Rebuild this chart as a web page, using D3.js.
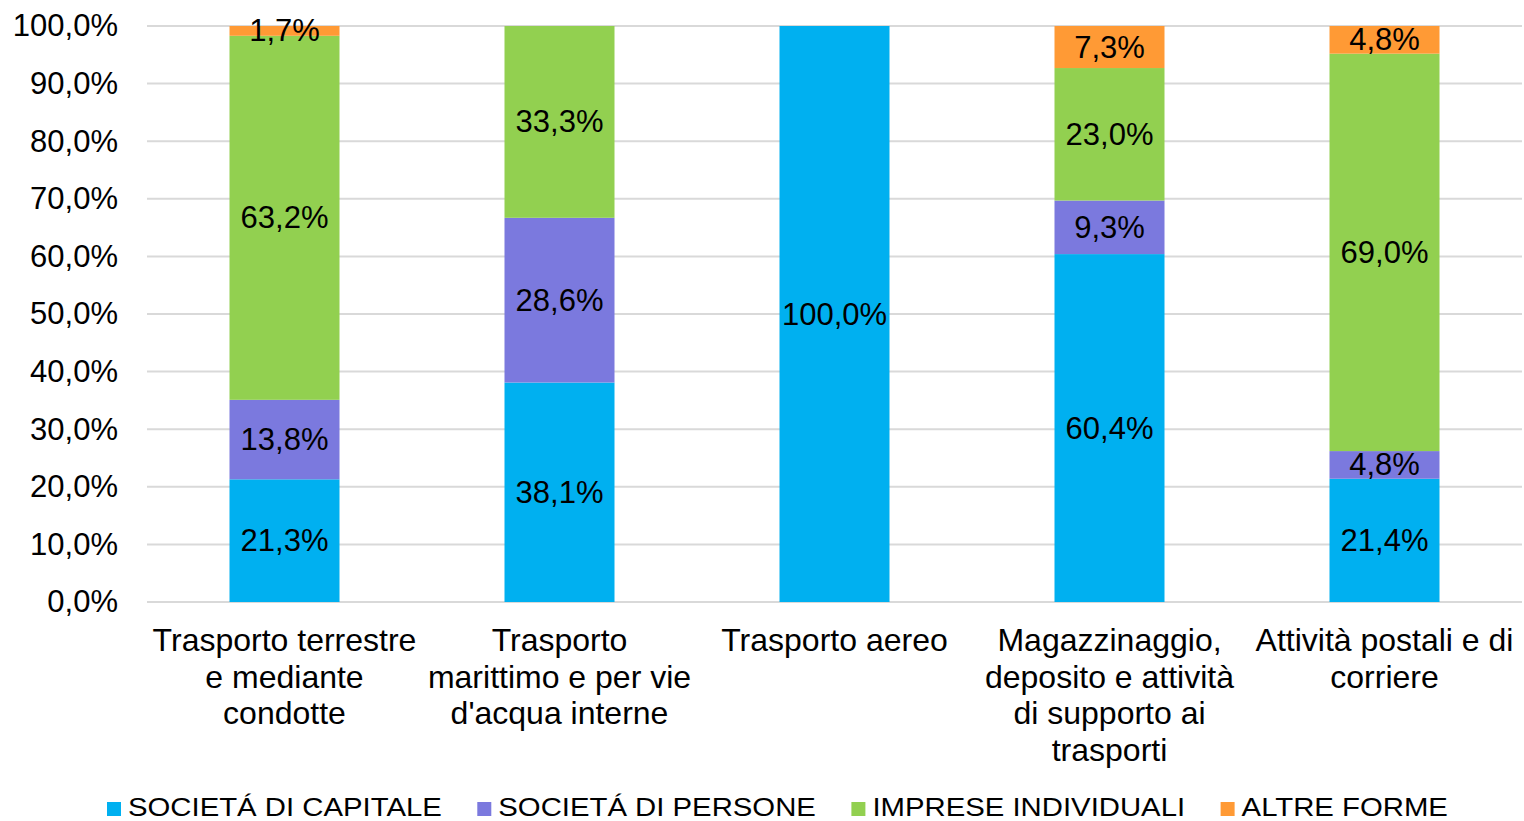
<!DOCTYPE html>
<html>
<head>
<meta charset="utf-8">
<script src="https://cdn.jsdelivr.net/npm/d3@7"></script>
<style>
  html, body { margin: 0; padding: 0; background: #fff; }
  svg { display: block; font-family: "Liberation Sans", Arial, sans-serif; }
</style>
</head>
<body>
<svg id="chart" width="1524" height="821"></svg>
<script>
const categories = [
  "Trasporto terrestre e mediante condotte",
  "Trasporto marittimo e per vie d'acqua interne",
  "Trasporto aereo",
  "Magazzinaggio, deposito e attività di supporto ai trasporti",
  "Attività postali e di corriere"
];
const categoryLines = [
  ["Trasporto terrestre", "e mediante", "condotte"],
  ["Trasporto", "marittimo e per vie", "d'acqua interne"],
  ["Trasporto aereo"],
  ["Magazzinaggio,", "deposito e attività", "di supporto ai", "trasporti"],
  ["Attività postali e di", "corriere"]
];
const seriesNames = ["SOCIETÁ DI CAPITALE", "SOCIETÁ DI PERSONE", "IMPRESE INDIVIDUALI", "ALTRE FORME"];
const seriesColors = ["#00B0F0", "#7B79DE", "#92D050", "#FF9A35"];
const societaCapitale = [21.3, 38.1, 100.0, 60.4, 21.4];
const societaPersone  = [13.8, 28.6, 0, 9.3, 4.8];
const impreseIndividuali = [63.2, 33.3, 0, 23.0, 69.0];
const altreForme = [1.7, 0, 0, 7.3, 4.8];
const yTicks = [0, 10, 20, 30, 40, 50, 60, 70, 80, 90, 100];

const seriesValues = [societaCapitale, societaPersone, impreseIndividuali, altreForme];
const fmt = v => v.toFixed(1).replace(".", ",") + "%";

const svg = d3.select("#chart");
const margin = {left: 147, right: 2, top: 26, bottom: 219};
const W = 1524, H = 821;
const x = d3.scaleBand().domain(categories).range([margin.left, W - margin.right])
  .paddingInner(0.6).paddingOuter(0.3);
const y = d3.scaleLinear().domain([0, 100]).range([H - margin.bottom, margin.top]);

// gridlines
const yAxis = d3.axisLeft(y).tickValues(yTicks).tickSize(0).tickPadding(29).tickFormat(fmt);
const grid = svg.append("g");
grid.selectAll("line").data(yTicks).join("line")
  .attr("x1", margin.left).attr("x2", W - margin.right)
  .attr("y1", d => y(d)).attr("y2", d => y(d))
  .attr("stroke", "#D9D9D9").attr("stroke-width", 2);

const gy = svg.append("g").attr("transform", `translate(${margin.left},0)`).call(yAxis);
gy.select(".domain").remove();
gy.selectAll("text").attr("font-size", 31).attr("fill", "#000")
  .attr("font-family", "'Liberation Sans', Arial, sans-serif");

// stacked data
const rows = categories.map((c, i) => {
  const r = {cat: c};
  seriesNames.forEach((s, k) => r[s] = seriesValues[k][i]);
  return r;
});
const stack = d3.stack().keys(seriesNames)(rows);

const layers = svg.append("g").selectAll("g").data(stack).join("g")
  .attr("fill", (d, k) => seriesColors[k]);
layers.selectAll("rect").data(d => d.filter(p => p[1] - p[0] > 0)).join("rect")
  .attr("x", p => x(p.data.cat))
  .attr("width", x.bandwidth())
  .attr("y", p => y(p[1]))
  .attr("height", p => y(p[0]) - y(p[1]));

// data labels
const labels = svg.append("g");
stack.forEach((layer, k) => {
  layer.forEach(p => {
    const v = p[1] - p[0];
    if (v <= 0) return;
    labels.append("text")
      .attr("x", x(p.data.cat) + x.bandwidth() / 2)
      .attr("y", y((p[0] + p[1]) / 2))
      .attr("text-anchor", "middle")
      .attr("dominant-baseline", "central")
      .attr("font-size", 31)
      .attr("fill", "#000")
      .text(fmt(seriesValues[k][categories.indexOf(p.data.cat)]));
  });
});

// category labels
const catG = svg.append("g");
categories.forEach((c, i) => {
  const t = catG.append("text")
    .attr("x", x(c) + x.bandwidth() / 2)
    .attr("y", 651)
    .attr("text-anchor", "middle")
    .attr("font-size", 32)
    .attr("fill", "#000");
  categoryLines[i].forEach((ln, j) => {
    t.append("tspan").attr("x", x(c) + x.bandwidth() / 2)
      .attr("dy", j === 0 ? 0 : 36.5).text(ln);
  });
});

// legend
const leg = svg.append("g");
let lx = 107;
const sx = 1.173;
seriesNames.forEach((s, k) => {
  leg.append("rect").attr("x", lx).attr("y", 802).attr("width", 14).attr("height", 14)
    .attr("fill", seriesColors[k]);
  const t = leg.append("text")
    .attr("transform", `translate(${lx + 21},815.5) scale(${sx},1)`)
    .attr("font-size", 25).attr("fill", "#000").text(s);
  const w = t.node().getComputedTextLength() * sx;
  lx += 21 + w + 35.5;
});
</script>
</body>
</html>
